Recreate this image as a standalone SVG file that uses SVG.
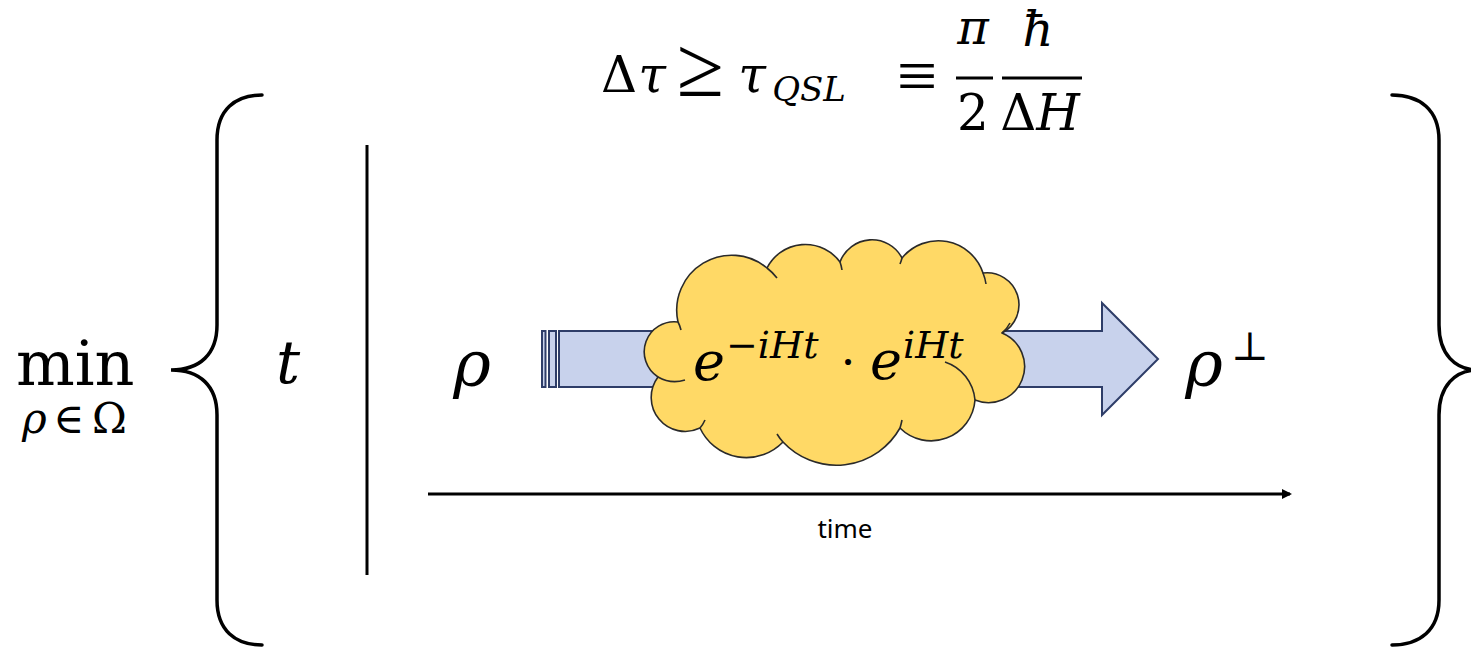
<svg xmlns="http://www.w3.org/2000/svg" width="1471" height="648" viewBox="0 0 1471 648">
<defs>
<style>
.m{font-family:"DejaVu Serif","Liberation Serif",serif;fill:#000}
.l{font-family:"Liberation Serif","DejaVu Serif",serif;fill:#000}
.i{font-style:italic}
.brace{fill:none;stroke:#000;stroke-width:3.5;stroke-linecap:round}
.blk{stroke:#000;stroke-width:3}
.arr{fill:#C8D2EC;stroke:#2E3D68;stroke-width:2}
.cl{fill:#FFD966;stroke:#2A2A2A;stroke-width:1.6;stroke-linejoin:round}
.cli{fill:none;stroke:#2A2A2A;stroke-width:1.6}
</style>
<marker id="ah" markerWidth="10" markerHeight="10" refX="8" refY="5" orient="auto" markerUnits="userSpaceOnUse">
<path d="M0,0 L10,5 L0,10 Z" fill="#000"/>
</marker>
</defs>
<rect width="1471" height="648" fill="#fff"/>

<g id="formula">
<text class="m" x="619" y="92" font-size="50" text-anchor="middle">Δ</text>
<text class="m i" x="652" y="92" font-size="50" text-anchor="middle">τ</text>
<text class="l" x="700" y="96" font-size="86" text-anchor="middle">≥</text>
<text class="m i" x="752" y="92" font-size="50" text-anchor="middle">τ</text>
<text class="m i" x="809" y="101" font-size="34" text-anchor="middle">QSL</text>
<text class="l" x="917" y="100" font-size="72" text-anchor="middle">≡</text>
<text class="m i" x="973" y="44" font-size="48" text-anchor="middle">π</text>
<line class="blk" x1="956" y1="78" x2="993" y2="78"/>
<text class="m" x="973" y="130" font-size="50" text-anchor="middle">2</text>
<text class="m i" x="1038" y="46" font-size="48" text-anchor="middle">ħ</text>
<line class="blk" x1="1002" y1="78" x2="1082" y2="78"/>
<text class="m" x="1040" y="130" font-size="50" text-anchor="middle">Δ<tspan class="i">H</tspan></text>
</g>

<g id="min">
<text class="m" font-size="62"><tspan x="16" y="385">min</tspan><tspan class="i" x="22" y="433" font-size="42">ρ</tspan><tspan x="53" y="433" font-size="42">∈</tspan><tspan x="92" y="433" font-size="42">Ω</tspan></text>
</g>

<g id="left-brace">
<path class="brace" d="M262,95 C235,95 217,110 217,140 L217,325 C217,354 200,370 171,370 C200,370 217,386 217,415 L217,600 C217,630 235,645 262,645"/>
</g>
<g id="right-brace">
<path class="brace" d="M1392,95 C1420,95 1439,110 1439,140 L1439,325 C1439,354 1455,370 1478,370 M1478,370 C1455,370 1439,386 1439,415 L1439,600 C1439,630 1420,645 1392,645"/>
</g>

<g id="t-label">
<text class="m i" x="288" y="383" font-size="60" text-anchor="middle">t</text>
</g>
<g id="divider">
<line x1="367" y1="145" x2="367" y2="575" stroke="#000" stroke-width="3"/>
</g>

<g id="rho">
<text class="m i" x="472" y="386" font-size="64" text-anchor="middle">ρ</text>
</g>

<g id="state-arrow">
<rect class="arr" x="542" y="331" width="3.5" height="56"/>
<rect class="arr" x="549" y="331" width="7" height="56"/>
<path class="arr" d="M559,331 L1102,331 L1102,303 L1158,359 L1102,415 L1102,387 L559,387 Z"/>
</g>

<g id="cloud">
<path class="cl" d="M678,322 A55 55 0 0 1 767,268 A43 43 0 0 1 840,262 A34 34 0 0 1 902,258 A47 47 0 0 1 983,273 A32 32 0 0 1 1002,333 A36 36 0 0 1 975,400 A44 44 0 0 1 900,428 A73 73 0 0 1 783,442 A51 51 0 0 1 700,428 A34 34 0 0 1 658,377 A30 30 0 0 1 678,322 Z"/>
<path class="cli" d="M678,322 A30 30 0 0 1 681,330"/>
<path class="cli" d="M767,268 A55 55 0 0 1 777,278"/>
<path class="cli" d="M840,262 A43 43 0 0 1 842,270"/>
<path class="cli" d="M902,258 A34 34 0 0 1 900,264"/>
<path class="cli" d="M983,273 A47 47 0 0 1 986,284"/>
<path class="cli" d="M1002,333 A32 32 0 0 0 1010,323"/>
<path class="cli" d="M975,400 A44 44 0 0 0 945,362"/>
<path class="cli" d="M900,428 A73 73 0 0 0 902,420"/>
<path class="cli" d="M783,442 A51 51 0 0 1 777,434"/>
<path class="cli" d="M700,428 A34 34 0 0 0 705,420"/>
<path class="cli" d="M658,377 A34 34 0 0 0 685,380"/>
<text class="m i" x="693" y="380" font-size="54">e</text>
<text class="m i" x="726" y="358" font-size="38">−iHt</text>
<text class="m" x="848" y="378" font-size="46" text-anchor="middle">·</text>
<text class="m i" x="870" y="379" font-size="54">e</text>
<text class="m i" x="903" y="358" font-size="38">iHt</text>
</g>

<g id="rho-perp">
<text class="m i" x="1204" y="386" font-size="64" text-anchor="middle">ρ</text>
<text class="m" x="1250" y="360" font-size="40" text-anchor="middle">⊥</text>
</g>

<g id="connectors">
<line x1="428" y1="494" x2="1290" y2="494" stroke="#000" stroke-width="3" marker-end="url(#ah)"/>
</g>
<g id="time-label">
<text x="845" y="538" font-family="'Noto Sans','Open Sans',sans-serif" font-size="26" text-anchor="middle" fill="#000">time</text>
</g>
</svg>
